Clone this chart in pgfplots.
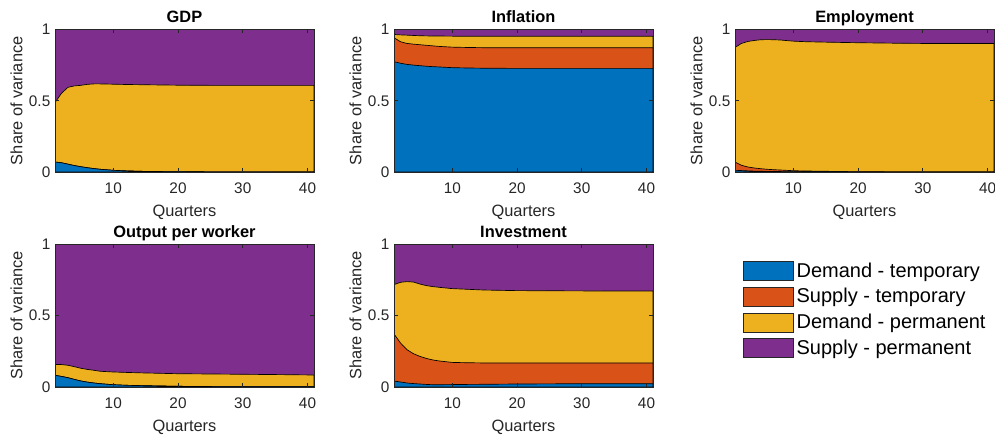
\documentclass[border=0pt]{standalone}
\usepackage{pgfplots}
\pgfplotsset{compat=1.18}
\usepackage{pgfplotstable}
\usepackage{fontspec}
\setmainfont{Liberation Sans}
\definecolor{cA}{RGB}{0,114,189}
\definecolor{cB}{RGB}{217,83,25}
\definecolor{cC}{RGB}{237,177,32}
\definecolor{cD}{RGB}{126,47,142}
\definecolor{axg}{RGB}{38,38,38}

% cumulative shares: c1 = demand temp, c2 = + supply temp, c3 = + demand perm
\pgfplotstableread{
x c1 c2 c3
1 0.070 0.070 0.487
2 0.065 0.065 0.552
3 0.055 0.055 0.594
4 0.045 0.045 0.604
5 0.037 0.037 0.608
6 0.030 0.030 0.615
7 0.024 0.024 0.618
8 0.019 0.019 0.618
10 0.012 0.012 0.616
12 0.008 0.008 0.614
15 0.004 0.004 0.612
20 0.002 0.002 0.609
25 0.001 0.001 0.608
30 0.001 0.001 0.608
35 0.000 0.000 0.608
41 0.000 0.000 0.608
}\gdp

\pgfplotstableread{
x c1 c2 c3
1 0.774 0.942 0.965
2 0.763 0.914 0.962
3 0.755 0.902 0.960
4 0.750 0.897 0.958
5 0.746 0.893 0.956
6 0.742 0.889 0.955
7 0.739 0.885 0.954
8 0.737 0.881 0.954
10 0.732 0.876 0.953
12 0.730 0.874 0.953
15 0.728 0.872 0.953
20 0.727 0.872 0.953
25 0.727 0.872 0.953
30 0.727 0.872 0.953
35 0.727 0.872 0.953
41 0.727 0.872 0.953
}\infl

\pgfplotstableread{
x c1 c2 c3
1 0.012 0.070 0.874
2 0.010 0.047 0.902
3 0.008 0.035 0.916
4 0.006 0.028 0.923
5 0.005 0.023 0.928
6 0.004 0.019 0.929
7 0.003 0.016 0.928
8 0.003 0.014 0.926
10 0.002 0.009 0.918
12 0.001 0.007 0.914
15 0.001 0.005 0.911
20 0.000 0.002 0.907
25 0.000 0.001 0.904
30 0.000 0.000 0.902
35 0.000 0.000 0.902
41 0.000 0.000 0.902
}\empl

\pgfplotstableread{
x c1 c2 c3
1 0.082 0.082 0.158
2 0.074 0.074 0.157
3 0.065 0.065 0.152
4 0.053 0.053 0.142
5 0.042 0.042 0.131
6 0.034 0.034 0.123
7 0.028 0.028 0.117
8 0.023 0.023 0.110
10 0.016 0.016 0.105
12 0.012 0.012 0.102
15 0.009 0.009 0.098
20 0.005 0.005 0.093
25 0.003 0.003 0.091
30 0.002 0.002 0.089
35 0.002 0.002 0.087
41 0.002 0.002 0.084
}\opw

\pgfplotstableread{
x c1 c2 c3
1 0.042 0.371 0.716
2 0.035 0.308 0.732
3 0.028 0.261 0.737
4 0.024 0.233 0.734
5 0.021 0.214 0.720
6 0.018 0.200 0.709
7 0.016 0.189 0.702
8 0.016 0.182 0.697
10 0.017 0.172 0.688
12 0.018 0.170 0.684
15 0.019 0.168 0.678
20 0.021 0.168 0.674
25 0.022 0.168 0.673
30 0.023 0.168 0.672
35 0.023 0.168 0.671
41 0.023 0.168 0.671
}\inv

\pgfplotsset{
  panel/.style={
    scale only axis, width=194.25pt, height=106.9pt, anchor=south west,
    xmin=1, xmax=41, ymin=0, ymax=1,
    xtick={10,20,30,40}, ytick={0,0.5,1},
    tick align=inside, axis on top,
    axis line style={axg, line width=0.5pt},
    tick style={axg, line width=0.5pt},
    major tick length=3pt,
    /pgf/number format/assume math mode=true,
    ticklabel style={font=\fontsize{11.5}{13}\selectfont, text=axg},
    xticklabel style={yshift=-4.4pt},
    xlabel={Quarters}, ylabel={Share of variance},
    label style={font=\fontsize{12.3}{14}\selectfont, text=axg},
    xlabel style={at={(0.5,0)}, anchor=base, yshift=-33pt},
    ylabel style={at={(0,0.5)}, anchor=base, yshift=24.5pt},
    every axis title/.style={font=\bfseries\fontsize{12.3}{14}\selectfont, at={(0.5,1)}, anchor=base, yshift=5pt},
  },
  area/.style={draw=black, line width=0.5pt, fill=#1},
}

\newcommand{\panel}[1]{%
  \addplot[area=cD] coordinates {(1,1) (41,1)} \closedcycle;
  \addplot[area=cC] table[x=x,y=c3]{#1} \closedcycle;
  \addplot[area=cB] table[x=x,y=c2]{#1} \closedcycle;
  \addplot[area=cA] table[x=x,y=c1]{#1} \closedcycle;
}

\begin{document}
\begin{tikzpicture}
\path[use as bounding box] (0,0) rectangle (746.25pt,327.75pt);

\begin{axis}[panel, at={(41.25pt,198.75pt)}, title={GDP}]
\panel{\gdp}
\end{axis}

\begin{axis}[panel, at={(295.5pt,198.75pt)}, title={Inflation}]
\panel{\infl}
\end{axis}

\begin{axis}[panel, at={(551.25pt,198.75pt)}, title={Employment}]
\panel{\empl}
\end{axis}

\begin{axis}[panel, at={(41.25pt,37.5pt)}, height=107.25pt, title={Output per worker}]
\panel{\opw}
\end{axis}

\begin{axis}[panel, at={(295.5pt,37.5pt)}, height=107.25pt, title={Investment}]
\panel{\inv}
\end{axis}

\begin{axis}[hide axis, scale only axis, width=10pt, height=10pt,
  at={(557.25pt,95.6pt)}, anchor=west,
  xmin=0, xmax=1, ymin=0, ymax=1,
  legend style={at={(0,0.5)}, anchor=west, draw=none, fill=none,
    font=\fontsize{15}{17}\selectfont, inner sep=0pt,
    /tikz/every even column/.append style={column sep=2pt},
    row sep=3pt},
  legend cell align=left,
  legend image code/.code={\draw[#1, draw=axg, line width=0.5pt] (0pt,-7.1pt) rectangle (37.5pt,7.1pt);}]
\addlegendimage{fill=cA}
\addlegendimage{fill=cB}
\addlegendimage{fill=cC}
\addlegendimage{fill=cD}
\legend{Demand - temporary, Supply - temporary, Demand - permanent, Supply - permanent}
\end{axis}
\end{tikzpicture}
\end{document}
